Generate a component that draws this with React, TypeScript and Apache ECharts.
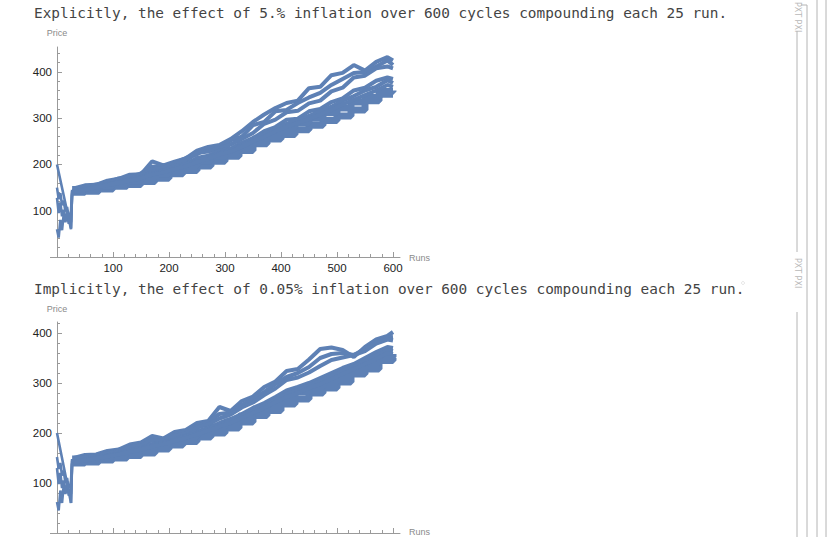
import React, { useEffect, useRef } from "react";
import * as echarts from "echarts";

// ---------- data ----------
const runsEarly = [0, 3, 6, 9, 12, 15, 18, 21, 24, 25, 27];
const runsStair = [27, 50, 75, 100, 125, 150, 175, 200, 225, 250, 275, 300, 325, 350, 375, 400, 425, 450, 475, 500, 525, 550, 575, 600];
const runsNoisy = [30, 50, 70, 90, 110, 130, 150, 170, 190, 210, 230, 250, 270, 290, 310, 330, 350, 370, 390, 410, 430, 450, 470, 490, 510, 530, 550, 570, 590, 600];

// Plot 1 (explicit 5.%)
const p1Early1 = [200, null, null, null, null, null, null, null, null, 60, 142];
const p1Early2 = [150, 125, 138, 112, 122, 98, 108, 85, 70, 62, 138];
const p1Early3 = [128, 95, 118, 88, 102, 78, 92, 72, 80, 75, 135];
const p1Early4 = [60, 42, 80, 58, 92, 75, 100, 88, 95, 100, 145];
const p1StairLow = [140, 142, 147, 153, 157, 163, 170, 180, 187, 197, 207, 218, 230, 245, 255, 265, 275, 285, 295, 305, 318, 338, 352, 352];
const p1StairHigh = [146, 149, 154, 160, 165, 172, 180, 190, 198, 208, 218, 230, 242, 255, 268, 280, 290, 300, 312, 322, 335, 345, 358, 360];
const p1Noisy1 = [148, 155, 156, 165, 169, 178, 179, 207, 198, 206, 213, 230, 238, 242, 255, 272, 292, 308, 322, 333, 338, 365, 368, 393, 398, 415, 403, 422, 432, 425];
const p1Noisy5 = [146, 152, 157, 161, 170, 173, 181, 195, 197, 203, 214, 222, 236, 233, 252, 260, 285, 292, 315, 318, 333, 345, 355, 372, 385, 398, 400, 412, 425, 415];
const p1Noisy2 = [145, 152, 154, 162, 166, 174, 177, 190, 193, 202, 208, 225, 228, 235, 243, 255, 268, 288, 297, 313, 316, 332, 338, 358, 366, 388, 392, 408, 412, 408];
const p1Noisy3 = [142, 148, 151, 158, 162, 169, 173, 184, 187, 197, 201, 214, 219, 230, 234, 247, 257, 272, 281, 297, 299, 315, 320, 335, 343, 360, 366, 381, 388, 385];
const p1Noisy6 = [141, 146, 152, 156, 162, 166, 172, 180, 186, 192, 200, 208, 216, 224, 232, 241, 254, 265, 277, 288, 295, 305, 315, 325, 338, 348, 360, 368, 382, 376];
const p1Noisy4 = [140, 145, 150, 155, 160, 165, 170, 178, 183, 190, 196, 205, 212, 222, 228, 238, 250, 260, 272, 282, 290, 298, 308, 318, 330, 340, 350, 360, 372, 368];

// Plot 2 (implicit 0.05%)
const p2Early1 = [200, null, null, null, null, null, null, null, null, 60, 145];
const p2Early2 = [152, 128, 140, 115, 125, 100, 110, 88, 72, 60, 140];
const p2Early3 = [130, 98, 120, 90, 105, 80, 95, 75, 82, 78, 138];
const p2Early4 = [62, 45, 85, 60, 95, 78, 102, 90, 98, 105, 148];
const p2StairLow = [140, 142, 146, 150, 155, 160, 168, 176, 183, 192, 200, 210, 222, 235, 245, 258, 268, 280, 290, 302, 318, 328, 345, 350];
const p2StairHigh = [148, 150, 154, 158, 163, 170, 178, 186, 193, 202, 212, 222, 234, 248, 258, 270, 282, 292, 302, 315, 328, 340, 352, 358];
const p2Noisy1 = [150, 156, 157, 164, 167, 177, 181, 194, 189, 202, 206, 220, 224, 252, 244, 264, 273, 292, 303, 324, 328, 347, 368, 371, 366, 352, 372, 387, 394, 402];
const p2Noisy5 = [148, 152, 156, 160, 166, 172, 179, 188, 188, 197, 204, 214, 222, 238, 241, 256, 268, 282, 298, 312, 320, 332, 350, 358, 360, 356, 368, 382, 391, 392];
const p2Noisy2 = [146, 151, 153, 159, 163, 171, 175, 186, 185, 194, 199, 211, 217, 229, 237, 251, 261, 276, 289, 306, 311, 321, 334, 346, 351, 356, 364, 379, 387, 385];
const p2Noisy3 = [143, 147, 151, 155, 160, 165, 171, 178, 181, 188, 195, 203, 210, 220, 228, 238, 250, 260, 272, 285, 292, 300, 310, 320, 330, 338, 350, 362, 372, 370];
const p2Noisy6 = [142, 146, 150, 154, 158, 163, 169, 175, 180, 186, 193, 200, 208, 216, 224, 234, 245, 255, 267, 278, 286, 295, 304, 314, 324, 333, 344, 355, 366, 364];
const p2Noisy4 = [141, 145, 149, 153, 157, 162, 167, 173, 178, 184, 190, 197, 205, 213, 220, 230, 240, 250, 262, 272, 280, 290, 298, 308, 318, 328, 338, 348, 360, 358];

const xMajorTicks = [100, 200, 300, 400, 500, 600];
const xMinorTicks = [20, 40, 60, 80, 120, 140, 160, 180, 220, 240, 260, 280, 320, 340, 360, 380, 420, 440, 460, 480, 520, 540, 560, 580];
const y1MinorTicks = [20, 40, 60, 80, 120, 140, 160, 180, 220, 240, 260, 280, 320, 340, 360, 380, 420, 440];
const y2MinorTicks = [20, 40, 60, 80, 120, 140, 160, 180, 220, 240, 260, 280, 320, 340, 360, 380, 420];

const title1 = "Explicitly, the effect of 5.% inflation over 600 cycles compounding each 25 run.";
const title2 = "Implicitly, the effect of 0.05% inflation over 600 cycles compounding each 25 run.";

// ---------- style ----------
const BLUE = "#5E81B5";
const AXIS = "#9a9a9a";

const zip = (xs: number[], ys: (number | null)[]) => xs.map((x, i) => [x, ys[i]]);

function plotSeries(g: number, early: (number | null)[][], stairs: number[][], noisy: number[][]) {
  const base = { type: "line", xAxisIndex: 2 * g, yAxisIndex: 2 * g, showSymbol: false, silent: true, color: BLUE };
  const out: any[] = [];
  early.forEach((ys) =>
    out.push({ ...base, data: zip(runsEarly, ys), connectNulls: true, lineStyle: { width: 2.6, color: BLUE } })
  );
  stairs.forEach((ys) =>
    out.push({ ...base, data: zip(runsStair, ys), step: "end", lineStyle: { width: 7, color: BLUE } })
  );
  noisy.forEach((ys) =>
    out.push({ ...base, data: zip(runsNoisy, ys), lineStyle: { width: 4, color: BLUE } })
  );
  return out;
}

function xAxes(g: number, showLabels: boolean) {
  return [
    {
      type: "value", gridIndex: g, min: 0, max: 612.5, position: "bottom",
      axisLine: { show: true, onZero: false, lineStyle: { color: AXIS, width: 1 } },
      splitLine: { show: false },
      axisTick: { show: true, inside: true, length: 5, customValues: xMajorTicks, lineStyle: { color: AXIS } },
      axisLabel: { show: showLabels, customValues: xMajorTicks, color: "#222", fontSize: 11.5, fontFamily: "Liberation Sans", margin: 5 },
    },
    {
      type: "value", gridIndex: g, min: 0, max: 612.5, position: "bottom",
      axisLine: { show: false, onZero: false },
      splitLine: { show: false },
      axisTick: { show: true, inside: true, length: 3, customValues: xMinorTicks, lineStyle: { color: AXIS } },
      axisLabel: { show: false },
    },
  ];
}

function yAxes(g: number, max: number, minor: number[]) {
  return [
    {
      type: "value", gridIndex: g, min: 0, max, interval: 100, position: "left",
      axisLine: { show: true, onZero: false, lineStyle: { color: AXIS, width: 1 } },
      splitLine: { show: false },
      axisTick: { show: true, inside: true, length: 5, lineStyle: { color: AXIS } },
      axisLabel: {
        color: "#222", fontSize: 11.5, fontFamily: "Liberation Sans", margin: 5,
        formatter: (v: number) => (v === 0 ? "" : String(v)),
        showMaxLabel: false,
      },
    },
    {
      type: "value", gridIndex: g, min: 0, max, position: "left",
      axisLine: { show: false, onZero: false },
      splitLine: { show: false },
      axisTick: { show: true, inside: true, length: 3, customValues: minor, lineStyle: { color: AXIS } },
      axisLabel: { show: false },
    },
  ];
}

function small(text: string, x: number, y: number, align = "center") {
  return {
    type: "text", x, y, silent: true,
    style: { text, fill: "#8a8a8a", font: "9px 'Liberation Sans', sans-serif", textAlign: align, textVerticalAlign: "middle" },
  };
}

function vline(x: number, y1: number, y2: number, color = "#b4b4b4") {
  return { type: "line", silent: true, shape: { x1: x, y1, x2: x, y2 }, style: { stroke: color, lineWidth: 1 } };
}

function hline(y: number, x1: number, x2: number, color = "#b4b4b4") {
  return { type: "line", silent: true, shape: { x1, y1: y, x2, y2: y }, style: { stroke: color, lineWidth: 1 } };
}

function bracketText(x: number, y: number) {
  return {
    type: "text", x, y, rotation: -Math.PI / 2, silent: true,
    style: { text: "PXT PXI", fill: "#b8b8b8", font: "8px 'DejaVu Sans', sans-serif", textAlign: "left", textVerticalAlign: "middle" },
  };
}

export default function App() {
  const ref = useRef<HTMLDivElement>(null);
  useEffect(() => {
    if (!ref.current) return;
    const chart = echarts.init(ref.current, undefined, { renderer: "svg" });
    const titleFont = "14.4px 'DejaVu Sans Mono', 'Liberation Mono', monospace";
    chart.setOption({
      animation: false,
      backgroundColor: "#ffffff",
      grid: [
        { left: 57, top: 47, width: 343, height: 210, containLabel: false, outerBoundsMode: "none" },
        { left: 57, top: 322, width: 343, height: 211, containLabel: false, outerBoundsMode: "none" },
      ],
      xAxis: [...xAxes(0, true), ...xAxes(1, false)],
      yAxis: [...yAxes(0, 454, y1MinorTicks), ...yAxes(1, 422, y2MinorTicks)],
      series: [
        ...plotSeries(0, [p1Early1, p1Early2, p1Early3, p1Early4], [p1StairLow, p1StairHigh], [p1Noisy1, p1Noisy5, p1Noisy2, p1Noisy3, p1Noisy6, p1Noisy4]),
        ...plotSeries(1, [p2Early1, p2Early2, p2Early3, p2Early4], [p2StairLow, p2StairHigh], [p2Noisy1, p2Noisy5, p2Noisy2, p2Noisy3, p2Noisy6, p2Noisy4]),
      ],
      graphic: [
        { type: "text", x: 34, y: 13, silent: true, style: { text: title1, fill: "#444444", font: titleFont, textAlign: "left", textVerticalAlign: "middle" } },
        { type: "text", x: 34, y: 289, silent: true, style: { text: title2, fill: "#444444", font: titleFont, textAlign: "left", textVerticalAlign: "middle" } },
        small("Price", 57, 33),
        small("Runs", 409, 258, "left"),
        small("Price", 57, 309),
        small("Runs", 409, 532, "left"),
        // x-axis extension left of the origin
        hline(257.5, 50, 57, AXIS),
        hline(533.5, 50, 57, AXIS),
        // notebook cell brackets
        bracketText(797, 2),
        vline(797, 31, 252),
        bracketText(797, 258),
        vline(797, 312, 537),
        hline(5, 801, 807),
        vline(807, 5, 537),
        vline(817, 0, 537),
        vline(826, 0, 537),
        { type: "circle", silent: true, shape: { cx: 743, cy: 283, r: 1.5 }, style: { fill: "none", stroke: "#dddddd", lineWidth: 0.8 } },
      ],
    });
    return () => chart.dispose();
  }, []);
  return <div ref={ref} style={{ position: "absolute", left: 0, top: 0, width: 828, height: 537, background: "#fff" }} />;
}
